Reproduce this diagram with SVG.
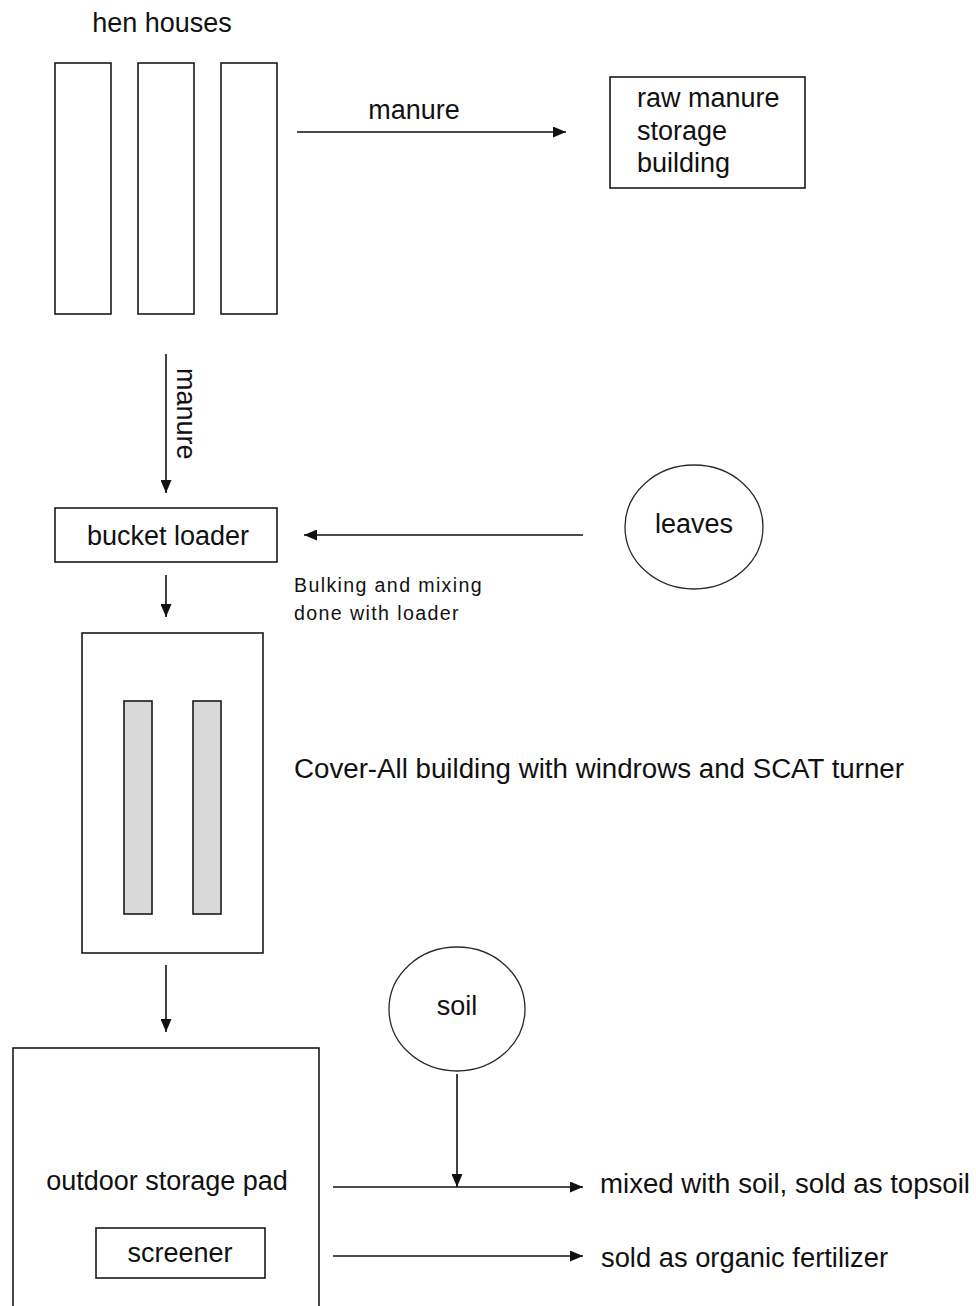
<svg xmlns="http://www.w3.org/2000/svg" width="976" height="1306" viewBox="0 0 976 1306">
<defs>
<style>
.box{fill:#fff;stroke:#1a1a1a;stroke-width:1.6}
.win{fill:#d9d9d9;stroke:#1a1a1a;stroke-width:1.6}
.ell{fill:#fff;stroke:#2a2a2a;stroke-width:1.3}
.ln{fill:none;stroke:#111;stroke-width:1.6}
text{font-family:"Liberation Sans",Arial,sans-serif;font-size:27px;fill:#111}
.mid{text-anchor:middle}
.note{font-size:20px;letter-spacing:1.4px}
</style>
<marker id="ah" markerUnits="userSpaceOnUse" markerWidth="13" markerHeight="11" refX="13" refY="5.5" orient="auto">
<path d="M0,0 L13,5.5 L0,11 z" fill="#111"/>
</marker>
</defs>
<rect width="976" height="1306" fill="#fff"/>

<g id="hen-houses">
<text x="162" y="32" class="mid">hen houses</text>
<rect class="box" x="55" y="63" width="56" height="251"/>
<rect class="box" x="138" y="63" width="56" height="251"/>
<rect class="box" x="221" y="63" width="56" height="251"/>
</g>

<g id="raw-manure-storage">
<rect class="box" x="610" y="77" width="195" height="111"/>
<text x="637" y="107">raw manure</text>
<text x="637" y="140">storage</text>
<text x="637" y="172">building</text>
</g>

<g id="bucket-loader">
<rect class="box" x="55" y="508" width="222" height="54"/>
<text x="168" y="545" class="mid">bucket loader</text>
</g>

<g id="leaves">
<ellipse class="ell" cx="694" cy="527" rx="69" ry="62"/>
<text x="694" y="533" class="mid">leaves</text>
</g>

<g id="cover-all">
<rect class="box" x="82" y="633" width="181" height="320"/>
<rect class="win" x="124" y="701" width="28" height="213"/>
<rect class="win" x="193" y="701" width="28" height="213"/>
<text x="294" y="778" textLength="610" lengthAdjust="spacingAndGlyphs">Cover-All building with windrows and SCAT turner</text>
</g>

<g id="soil">
<ellipse class="ell" cx="457" cy="1009" rx="68" ry="62"/>
<text x="457" y="1015" class="mid">soil</text>
</g>

<g id="outdoor-storage-pad">
<rect class="box" x="13" y="1048" width="306" height="280"/>
<text x="167" y="1190" class="mid">outdoor storage pad</text>
<rect class="box" x="96" y="1228" width="169" height="50"/>
<text x="180" y="1262" class="mid">screener</text>
</g>

<g id="connectors">
<line class="ln" x1="297" y1="132" x2="566" y2="132" marker-end="url(#ah)"/>
<text x="414" y="119" class="mid">manure</text>
<line class="ln" x1="166" y1="354" x2="166" y2="493" marker-end="url(#ah)"/>
<text transform="translate(177,368) rotate(90)">manure</text>
<line class="ln" x1="583" y1="535" x2="304" y2="535" marker-end="url(#ah)"/>
<text x="294" y="592" class="note" textLength="189" lengthAdjust="spacingAndGlyphs">Bulking and mixing</text>
<text x="294" y="620" class="note" textLength="166" lengthAdjust="spacingAndGlyphs">done with loader</text>
<line class="ln" x1="166" y1="575" x2="166" y2="617" marker-end="url(#ah)"/>
<line class="ln" x1="166" y1="965" x2="166" y2="1032" marker-end="url(#ah)"/>
<line class="ln" x1="457" y1="1074" x2="457" y2="1187" marker-end="url(#ah)"/>
<line class="ln" x1="333" y1="1187" x2="583" y2="1187" marker-end="url(#ah)"/>
<text x="600" y="1193" textLength="370" lengthAdjust="spacingAndGlyphs">mixed with soil, sold as topsoil</text>
<line class="ln" x1="333" y1="1256" x2="583" y2="1256" marker-end="url(#ah)"/>
<text x="601" y="1267" textLength="287" lengthAdjust="spacingAndGlyphs">sold as organic fertilizer</text>
</g>
</svg>
